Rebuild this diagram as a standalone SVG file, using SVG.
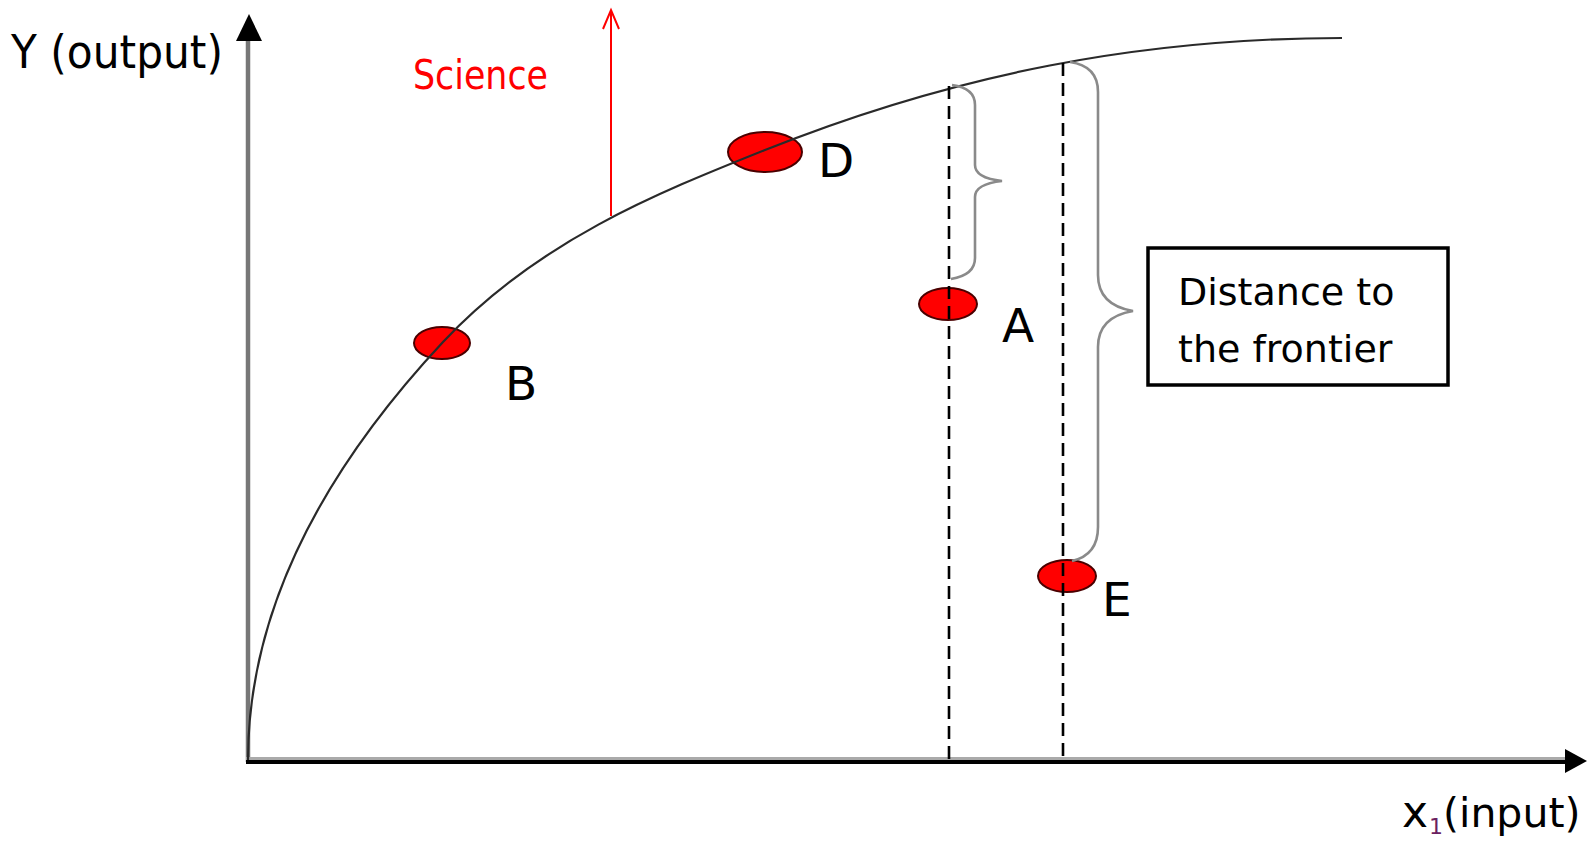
<svg xmlns="http://www.w3.org/2000/svg" width="1588" height="845" viewBox="0 0 1588 845">
<style>
text{font-family:"DejaVu Sans","Liberation Sans",sans-serif;font-size:38px;fill:#000}
.lbl{font-size:47px}
.pt{fill:#ff0000;stroke:#4a0000;stroke-width:2}
.dash{stroke:#000;stroke-width:2.6;stroke-dasharray:13 7;fill:none}
.brace{stroke:#8a8a8a;stroke-width:2.6;fill:none}
</style>
<rect width="1588" height="845" fill="#fff"/>
<g id="axes">
<line x1="248" y1="762" x2="248" y2="40" stroke="#777" stroke-width="4.5"/>
<polygon points="249,14 236,41 262,41" fill="#000"/>
<line x1="246" y1="758.5" x2="1567" y2="758.5" stroke="#aaa" stroke-width="3"/>
<line x1="246" y1="762" x2="1567" y2="762" stroke="#000" stroke-width="4"/>
<polygon points="1587,761 1565,749 1565,773" fill="#000"/>
<text class="lbl" x="11" y="68" textLength="212" lengthAdjust="spacingAndGlyphs">Y (output)</text>
<text x="1402" y="827" style="font-size:44px">x</text>
<text x="1429" y="834" style="fill:#6a2060;font-size:22px">1</text>
<text x="1443" y="827" style="font-size:41px">(input)</text>
</g>
<g id="node-B"><ellipse class="pt" cx="442" cy="343" rx="28" ry="16"/><text class="lbl" x="505" y="400">B</text></g>
<g id="node-D"><ellipse class="pt" cx="765" cy="152" rx="37" ry="20"/><text class="lbl" x="818" y="177">D</text></g>
<g id="node-A"><ellipse class="pt" cx="948" cy="304" rx="29" ry="16"/><text class="lbl" x="1002" y="342">A</text></g>
<g id="node-E"><ellipse class="pt" cx="1067" cy="576" rx="29" ry="16"/><text class="lbl" x="1102" y="616">E</text></g>
<g id="node-box"><rect x="1148" y="248" width="300" height="137" fill="none" stroke="#000" stroke-width="3.5"/>
<text x="1178" y="305">Distance to</text><text x="1178" y="362">the frontier</text></g>
<g id="node-science"><text x="413" y="89" textLength="135" lengthAdjust="spacingAndGlyphs" style="fill:#ff0000;font-size:41px">Science</text></g>
<g id="connectors">
<path d="M248,760 Q248,551 443,342 C538,241 655,194 765,150 C955,74 1142,38 1342,38" fill="none" stroke="#2a2a2a" stroke-width="2.2"/>
<line class="dash" x1="949" y1="86" x2="949" y2="760"/>
<line class="dash" x1="1063" y1="63" x2="1063" y2="760"/>
<path class="brace" d="M952,85 Q975,88 975,105 L975,165 Q975,178 1002,181 Q975,184 975,197 L975,258 Q975,275 951,279"/>
<path class="brace" d="M1070,62 Q1098,66 1098,92 L1098,275 Q1098,305 1133,311 Q1098,317 1098,347 L1098,527 Q1098,555 1072,561"/>
<line x1="611" y1="216" x2="611" y2="11" stroke="#ff0000" stroke-width="2"/>
<polyline points="603,29 611,10 619,29" fill="none" stroke="#ff0000" stroke-width="2"/>
</g>
</svg>
